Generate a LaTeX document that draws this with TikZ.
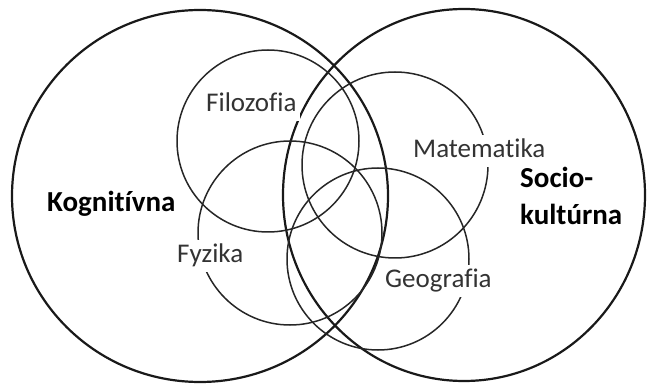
\documentclass[tikz,border=0pt]{standalone}
\usepackage{fontspec}
\setmainfont[Ligatures=NoCommon]{Carlito}
\begin{document}
\begin{tikzpicture}[x=1pt,y=-1pt,
  big/.style={line width=2.2pt, draw=black!90},
  small/.style={line width=1.5pt, draw=black!85},
  lab/.style={fill=white, text=black!80, font=\fontsize{27}{32}\selectfont,
    inner xsep=3pt, inner ysep=3pt, text height=20pt, text depth=6pt, anchor=base west},
  blab/.style={text=black, font=\bfseries\fontsize{29}{37}\selectfont,
    align=left, inner sep=0pt, anchor=base west}]
\useasboundingbox (0,0) rectangle (649,385);
% big circles
\draw[big] (200,196) ellipse [x radius=188, y radius=186];
\draw[big] (464,195) ellipse [x radius=181, y radius=186];
% small circles
\draw[small] (268,141) circle [radius=91];
\draw[small] (395,165) circle [radius=93];
\draw[small] (290,233) circle [radius=92];
\draw[small] (378,259) circle [radius=91];
% labels
\node[lab] (filo) at (203,112) {Filozofia};
\node[lab] (mate) at (410,158) {Matematika};
\node[lab] (fyz) at (174,263) {Fyzika};
\node[lab] (geo) at (382,288) {Geografia};
\node[blab] (kog) at (47,212) {Kognitívna};
\node[blab] (soc) at (520,225) {Socio-\\kultúrna};
\end{tikzpicture}
\end{document}
